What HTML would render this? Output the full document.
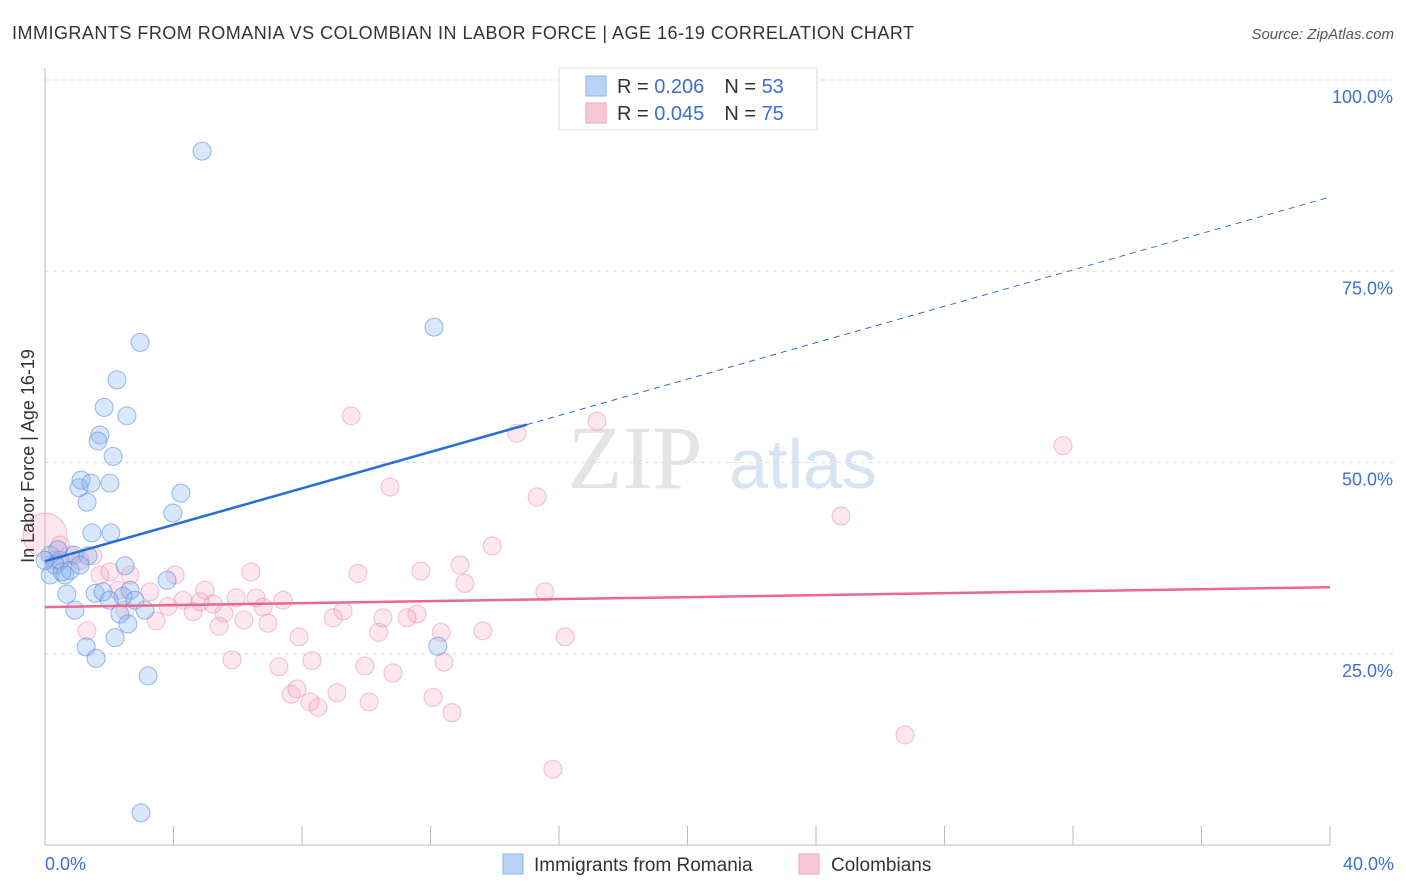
<!DOCTYPE html>
<html><head><meta charset="utf-8"><style>
body{margin:0;background:#fff;font-family:"Liberation Sans",sans-serif;}
svg{display:block}
</style></head><body>
<svg id="chart" width="1406" height="892" xmlns="http://www.w3.org/2000/svg">
<text x="12" y="39" font-size="18" fill="#333" textLength="902">IMMIGRANTS FROM ROMANIA VS COLOMBIAN IN LABOR FORCE | AGE 16-19 CORRELATION CHART</text>
<text x="1394" y="39" font-size="15" fill="#555" font-style="italic" text-anchor="end">Source: ZipAtlas.com</text>
<text x="635" y="488" font-size="90" fill="#e4e4e4" font-family="Liberation Serif,serif" text-anchor="middle">ZIP</text>
<text x="803" y="488" font-size="70" fill="#d6e4f5" text-anchor="middle">atlas</text>
<g id="grid"></g>
<g id="axes"></g>
<g id="pink"></g>
<g id="blue"></g>
<g id="lines"></g>
<text transform="translate(34,456) rotate(-90)" font-size="18" fill="#333" text-anchor="middle">In Labor Force | Age 16-19</text>
<text x="45" y="870" font-size="18" fill="#3b6fd4">0.0%</text>
<text x="1394" y="870" font-size="18" fill="#3b6fd4" text-anchor="end">40.0%</text>
<g>
<rect x="559" y="68" width="258" height="62" fill="#fff" stroke="#ddd"/>
<rect x="586" y="76" width="20" height="20" fill="#b8d3f5" stroke="#8fb3e8"/>
<rect x="586" y="103" width="20" height="20" fill="#fac8d6" stroke="#f0a3ba"/>
<text x="617" y="93" font-size="20" fill="#333">R = <tspan fill="#3b6fd4">0.206</tspan><tspan dx="20">N = </tspan><tspan fill="#3b6fd4">53</tspan></text>
<text x="617" y="120" font-size="20" fill="#333">R = <tspan fill="#3b6fd4">0.045</tspan><tspan dx="20">N = </tspan><tspan fill="#3b6fd4">75</tspan></text>
</g>
<g>
<rect x="503" y="854" width="20" height="20" fill="#b8d3f5" stroke="#8fb3e8"/>
<text x="534" y="871" font-size="19" fill="#333">Immigrants from Romania</text>
<rect x="799" y="854" width="20" height="20" fill="#fac8d6" stroke="#f0a3ba"/>
<text x="831" y="871" font-size="19" fill="#333">Colombians</text>
</g>
</svg>
<script>
const yTicks=[25,50,75,100];
const yTickLabels=["25.0%","50.0%","75.0%","100.0%"];
const xTicks=[0,4,8,12,16,20,24,28,32,36,40];
const blueX=[4.89,12.11,2.96,2.24,1.84,2.55,1.71,1.65,2.12,1.12,1.06,1.43,2.02,4.23,1.31,3.98,1.46,2.05,2.49,3.80,0.90,1.34,0.47,0.31,0.16,0.62,0.78,1.56,0.68,2.65,1.81,2.0,2.43,2.8,2.33,3.11,0.93,2.58,2.18,1.28,1.59,3.21,2.99,12.23,0.16,0.0,0.4,1.09,0.53];
const blueY=[90.7,67.7,65.7,60.8,57.2,56.1,53.6,52.8,50.8,47.7,46.7,47.3,47.3,46.0,44.8,43.4,40.8,40.8,36.5,34.6,37.9,37.8,37.2,36.6,35.3,35.3,35.9,32.9,32.8,33.3,33.1,32.0,32.5,32.0,30.2,30.7,30.7,28.9,27.1,25.9,24.4,22.1,4.2,26.0,37.9,37.2,38.6,36.6,35.7];
const pinkX=[0,9.53,17.18,14.69,31.69,10.74,15.32,24.78,13.92,12.92,11.7,9.74,6.41,4.05,1.49,2.02,1.09,1.71,13.07,15.56,4.98,3.27,2.27,5.95,6.57,7.41,4.30,4.83,5.23,3.83,6.79,9.28,5.57,4.61,2.49,11.58,8.97,10.52,11.27,6.19,3.46,6.94,5.42,10.39,12.33,13.63,1.31,7.91,16.19,5.82,8.31,9.96,12.42,7.28,10.83,7.84,7.66,9.09,8.25,8.5,10.09,12.08,12.67,26.77,15.81,0.47,0.78,0.31,2.65];
const pinkY=[40.5,56.1,55.4,53.8,52.2,46.8,45.5,43.0,39.1,36.6,35.8,35.5,35.7,35.3,37.8,35.7,37.2,35.3,34.2,33.1,33.3,33.1,33.3,32.3,32.3,32.0,32.0,31.8,31.5,31.2,31.1,30.6,30.3,30.5,30.7,30.2,29.7,29.7,29.7,29.4,29.3,29.0,28.6,27.8,27.8,28.0,28.0,27.2,27.2,24.2,24.1,23.4,23.9,23.3,22.5,20.4,19.7,19.9,18.7,18.0,18.7,19.3,17.3,14.4,9.9,39.2,37.9,37.2,35.3];
const blueTrend=[37.1,84.7]; const blueSolidEnd=15.0;
const pinkTrend=[31.1,33.7];
const X=v=>45+v/40*1285, Y=v=>845-v/100*765;
const NS="http://www.w3.org/2000/svg";
function mk(t,a,p){const e=document.createElementNS(NS,t);for(const k in a)e.setAttribute(k,a[k]);document.getElementById(p).appendChild(e);return e;}
yTicks.forEach((t,i)=>{
 const l=mk('line',{x1:45,x2:1394,y1:Y(t),y2:Y(t),stroke:'#ddd','stroke-dasharray':'4,4'},'grid');
 
 
 const tx=mk('text',{x:1393,y:Y(t)+23,'font-size':18,fill:'#3b6fd4','text-anchor':'end'},'grid');
 tx.textContent=yTickLabels[i];
 
 
});
mk('line',{x1:45,x2:45,y1:68,y2:845,stroke:'#bbb'},'axes');
mk('line',{x1:45,x2:1330,y1:845,y2:845,stroke:'#bbb'},'axes');
xTicks.forEach(t=>{const l=mk('line',{x1:X(t),x2:X(t),y1:826,y2:845,stroke:'#bbb'},'axes');
 
 });
pinkX.forEach((v,i)=>{const c=mk('circle',{cx:X(v),cy:Y(pinkY[i]),r:i==0?22:9,fill:'rgba(245,160,188,0.25)',stroke:'rgba(236,140,172,0.55)','stroke-width':1},'pink');
 
 });
blueX.forEach((v,i)=>{const c=mk('circle',{cx:X(v),cy:Y(blueY[i]),r:9,fill:'rgba(130,175,240,0.3)',stroke:'rgba(90,140,220,0.6)','stroke-width':1},'blue');
 
 });
const by=v=>blueTrend[0]+(blueTrend[1]-blueTrend[0])*v/40;
let l1=mk('line',{x1:X(0),y1:Y(by(0)),x2:X(blueSolidEnd),y2:Y(by(blueSolidEnd)),stroke:'#2a6dd6','stroke-width':2.5},'lines');


let l2=mk('line',{x1:X(blueSolidEnd),y1:Y(by(blueSolidEnd)),x2:X(40),y2:Y(by(40)),stroke:'#2a6dd6','stroke-width':1,'stroke-dasharray':'6,5'},'lines');


let l3=mk('line',{x1:X(0),y1:Y(pinkTrend[0]),x2:X(40),y2:Y(pinkTrend[1]),stroke:'#e8688f','stroke-width':2.5},'lines');


</script>
</body></html>
